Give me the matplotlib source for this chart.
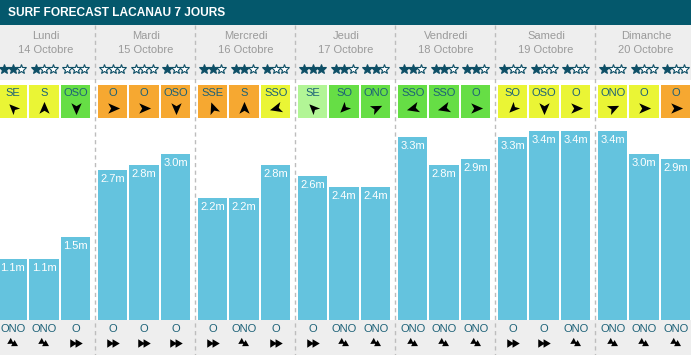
import numpy as np
import matplotlib
matplotlib.use("Agg")
import matplotlib.pyplot as plt
from matplotlib.path import Path
from matplotlib.patches import Rectangle

plt.rcParams['font.family'] = ['Liberation Sans', 'DejaVu Sans']

# ---------------- data ----------------
title = "SURF FORECAST LACANAU 7 JOURS"
days = ["Lundi", "Mardi", "Mercredi", "Jeudi", "Vendredi", "Samedi", "Dimanche"]
dates = ["14 Octobre", "15 Octobre", "16 Octobre", "17 Octobre",
         "18 Octobre", "19 Octobre", "20 Octobre"]
heights = [1.1, 1.1, 1.5,
           2.7, 2.8, 3.0,
           2.2, 2.2, 2.8,
           2.6, 2.4, 2.4,
           3.3, 2.8, 2.9,
           3.3, 3.4, 3.4,
           3.4, 3.0, 2.9]
stars = [2, 1, 0,
         0, 0, 1,
         2, 2, 1,
         3, 2, 2,
         2, 2, 2,
         1, 1, 1,
         1, 1, 1]
wind_dir = ["SE", "S", "OSO",
            "O", "O", "OSO",
            "SSE", "S", "SSO",
            "SE", "SO", "ONO",
            "SSO", "SSO", "O",
            "SO", "OSO", "O",
            "ONO", "O", "O"]
wind_level = ["y", "y", "g",
              "o", "o", "o",
              "o", "o", "y",
              "l", "g", "g",
              "g", "g", "g",
              "y", "y", "y",
              "y", "y", "o"]
swell_dir = ["ONO", "ONO", "O",
             "O", "O", "O",
             "O", "ONO", "O",
             "O", "ONO", "ONO",
             "ONO", "ONO", "ONO",
             "O", "O", "ONO",
             "ONO", "ONO", "ONO"]

# ---------------- styles ----------------
W, H = 691, 355
TEAL = "#04586C"
GREY = "#EEEEEE"
BAR = "#64C3DE"
TXT = "#1C6177"
DAYTXT = "#9A9A9A"
STAR = "#0E4F66"
level_colors = {"y": "#EAF535", "g": "#66DE45", "o": "#F6A831", "l": "#B2F596"}
wind_angle = {"SE": 135, "S": 90, "OSO": -90, "O": 0, "SSE": 110,
              "SSO": 195, "SO": 225, "ONO": 25}
swell_angle = {"O": 0, "ONO": -30}

PX_PER_M = 55.5
BAR_BOTTOM = 320
BAR_TOP = 118
DAY_W = 100
X0 = -2
PITCH = 31.5
BW = 29.5


def rot(verts, ang):
    a = np.deg2rad(ang)
    R = np.array([[np.cos(a), -np.sin(a)], [np.sin(a), np.cos(a)]])
    return verts @ R.T


def arrow_marker(ang):
    v = np.array([[1, 0], [-0.8, 0.78], [-0.35, 0], [-0.8, -0.78], [1, 0]])
    v = rot(v, ang)
    codes = [Path.MOVETO, Path.LINETO, Path.LINETO, Path.LINETO, Path.CLOSEPOLY]
    return Path(v, codes)


def ff_marker(ang):
    v = np.array([[-1, 0.68], [0.05, 0], [-1, -0.68], [-1, 0.68],
                  [-0.15, 0.68], [1, 0], [-0.15, -0.68], [-0.15, 0.68]])
    v = rot(v, ang)
    codes = [Path.MOVETO, Path.LINETO, Path.LINETO, Path.CLOSEPOLY] * 2
    return Path(v, codes)


fig = plt.figure(figsize=(W / 100, H / 100), dpi=100)
ax = fig.add_axes([0, 0, 1, 1])
ax.set_xlim(0, W)
ax.set_ylim(H, 0)
ax.axis("off")

# backgrounds
ax.add_patch(Rectangle((0, 25), W, 55, facecolor=GREY, lw=0, zorder=0))
ax.add_patch(Rectangle((0, BAR_BOTTOM), W, H - BAR_BOTTOM, facecolor=GREY, lw=0, zorder=0))
ax.add_patch(Rectangle((0, 0), W, 25, facecolor=TEAL, lw=0, zorder=1))
ax.text(8, 13, title, color="white", fontsize=8.6, fontweight="bold",
        va="center", ha="left", zorder=2)

n = len(heights)
lefts = np.array([X0 + (i // 3) * DAY_W + (i % 3) * PITCH for i in range(n)])
centers = lefts + BW / 2

# day separators
for d in range(1, len(days)):
    ax.plot([d * DAY_W - 5.3] * 2, [25, H], color="#BDBDBD", lw=1,
            ls=(0, (3, 2.5)), zorder=1)

# day headers
for d, (nm, dt) in enumerate(zip(days, dates)):
    cx = d * DAY_W + 46
    ax.text(cx, 36, nm, ha="center", va="center", fontsize=8, color=DAYTXT)
    ax.text(cx, 50, dt, ha="center", va="center", fontsize=8, color=DAYTXT)

# stars
for i in range(n):
    for k in range(3):
        x = centers[i] + (k - 1) * 8.5
        filled = k < stars[i]
        ax.plot(x, 68.5, marker="*", ms=7.5, mew=0.8,
                mfc=STAR if filled else "white", mec=STAR, zorder=3)

# wind boxes
for i in range(n):
    ax.add_patch(Rectangle((lefts[i], 85), BW, 33, lw=0,
                           facecolor=level_colors[wind_level[i]], zorder=2))
    ax.text(centers[i], 93, wind_dir[i], ha="center", va="center",
            fontsize=8, color=TXT, zorder=3)
    ax.plot(centers[i], 108, marker=arrow_marker(wind_angle[wind_dir[i]]),
            ms=9.5, color="black", mew=0, zorder=3)

# swell direction
for i in range(n):
    ax.text(centers[i], 328.5, swell_dir[i], ha="center", va="center",
            fontsize=8, color=TXT, zorder=3)
    ax.plot(centers[i], 343, marker=ff_marker(swell_angle[swell_dir[i]]),
            ms=9, color="black", mew=0, zorder=3)

# bars
bax = fig.add_axes([0, (H - BAR_BOTTOM) / H, 1, (BAR_BOTTOM - BAR_TOP) / H])
bax.set_xlim(0, W)
bax.set_ylim(0, (BAR_BOTTOM - BAR_TOP) / PX_PER_M)
bax.axis("off")
bax.patch.set_alpha(0)
bax.bar(lefts, heights, width=BW, align="edge", color=BAR, lw=0)
for x, h in zip(centers, heights):
    bax.annotate(f"{h:.1f}m", (x, h), xytext=(0, -6.5), textcoords="offset points",
                 ha="center", va="center", color="white", fontsize=8)

fig.savefig("out.png", dpi=100)
